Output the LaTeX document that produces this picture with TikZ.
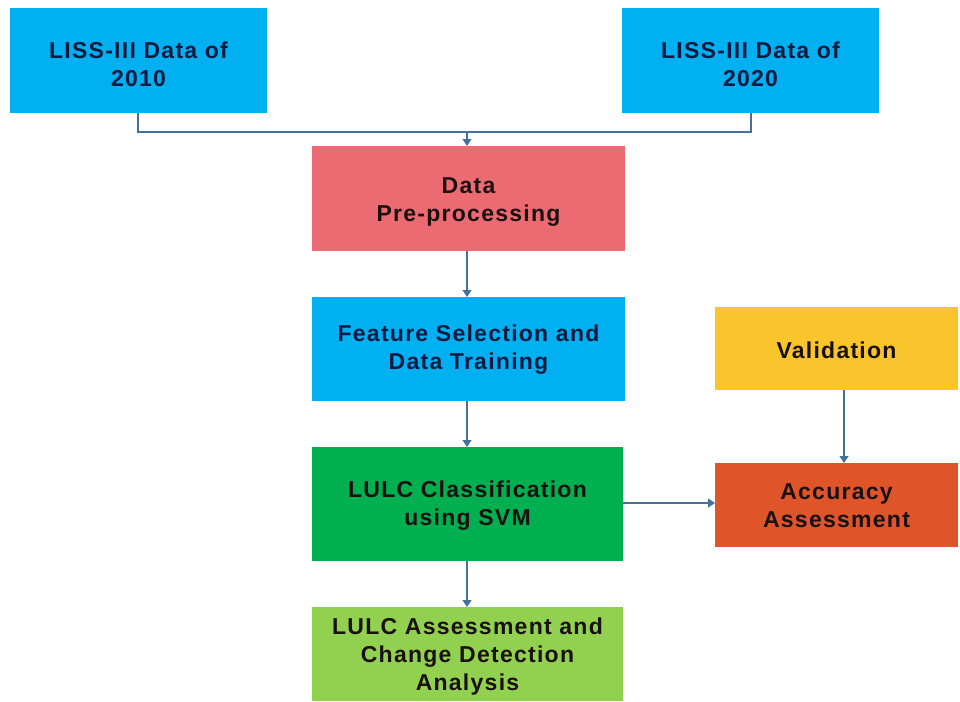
\documentclass[tikz,border=0pt]{standalone}
\usepackage{fontspec}
\setmainfont{Liberation Sans}[LetterSpace=5.5]
\usetikzlibrary{arrows.meta}
\definecolor{skyfill}{HTML}{00B0F0}
\definecolor{pinkfill}{HTML}{EC6B72}
\definecolor{greenfill}{HTML}{00B050}
\definecolor{limefill}{HTML}{92D050}
\definecolor{goldfill}{HTML}{F9C42C}
\definecolor{rustfill}{HTML}{E0542A}
\definecolor{navytext}{HTML}{0B1A40}
\definecolor{darktext}{HTML}{1A1010}
\definecolor{linkcol}{HTML}{44709A}
\tikzset{
  box/.style={inner sep=0pt, align=center,
    font=\bfseries\fontsize{23}{28}\selectfont, text=darktext},
  link/.style={draw=linkcol, line width=1.2pt, -{Triangle[length=7pt,width=9pt]}},
  plain/.style={draw=linkcol, line width=1.2pt}
}
\begin{document}
\begin{tikzpicture}[x=1pt,y=-1pt]
\useasboundingbox (0,0) rectangle (960,701);
% box fills
\fill[skyfill]   (10,8)   rectangle (267,113);
\fill[skyfill]   (622,8)  rectangle (879,113);
\fill[pinkfill]  (312,146) rectangle (625,251);
\fill[skyfill]   (312,297) rectangle (625,401);
\fill[greenfill] (312,447) rectangle (623,561);
\fill[limefill]  (312,607) rectangle (623,701);
\fill[goldfill]  (715,307) rectangle (958,390);
\fill[rustfill]  (715,463) rectangle (958,547);
% box labels
\node[box, text=navytext] (l2010) at (138.5,64) {LISS-III Data of\\2010};
\node[box, text=navytext] (l2020) at (750.5,64) {LISS-III Data of\\2020};
\node[box] (pre)  at (468.5,202) {Data\\Pre-processing};
\node[box, text=navytext] (feat) at (468.5,350) {Feature Selection and\\Data Training};
\node[box] (svm)  at (467.5,506) {LULC Classification\\using SVM};
\node[box] (chg)  at (467.5,657) {LULC Assessment and\\Change Detection\\Analysis};
\node[box] (val)  at (836.5,350) {Validation};
\node[box] (acc)  at (836.5,506) {Accuracy\\Assessment};
% anchor points on box edges
\coordinate (l2010b) at (138,113);
\coordinate (l2020b) at (751,113);
\coordinate (join) at (467,132);
\coordinate (pret) at (467,146);
\coordinate (preb) at (467,251);
\coordinate (featt) at (467,297);
\coordinate (featb) at (467,401);
\coordinate (svmt) at (467,447);
\coordinate (svmb) at (467,561);
\coordinate (chgt) at (467,607);
\coordinate (svmr) at (623,503);
\coordinate (accl) at (715,503);
\coordinate (valb) at (844,390);
\coordinate (acct) at (844,463);
% connectors
\draw[plain] (l2010b) |- (join) -| (l2020b);
\draw[link] (join) -- (pret);
\draw[link] (preb) -- (featt);
\draw[link] (featb) -- (svmt);
\draw[link] (svmb) -- (chgt);
\draw[link] (svmr) -- (accl);
\draw[link] (valb) -- (acct);
\end{tikzpicture}
\end{document}
